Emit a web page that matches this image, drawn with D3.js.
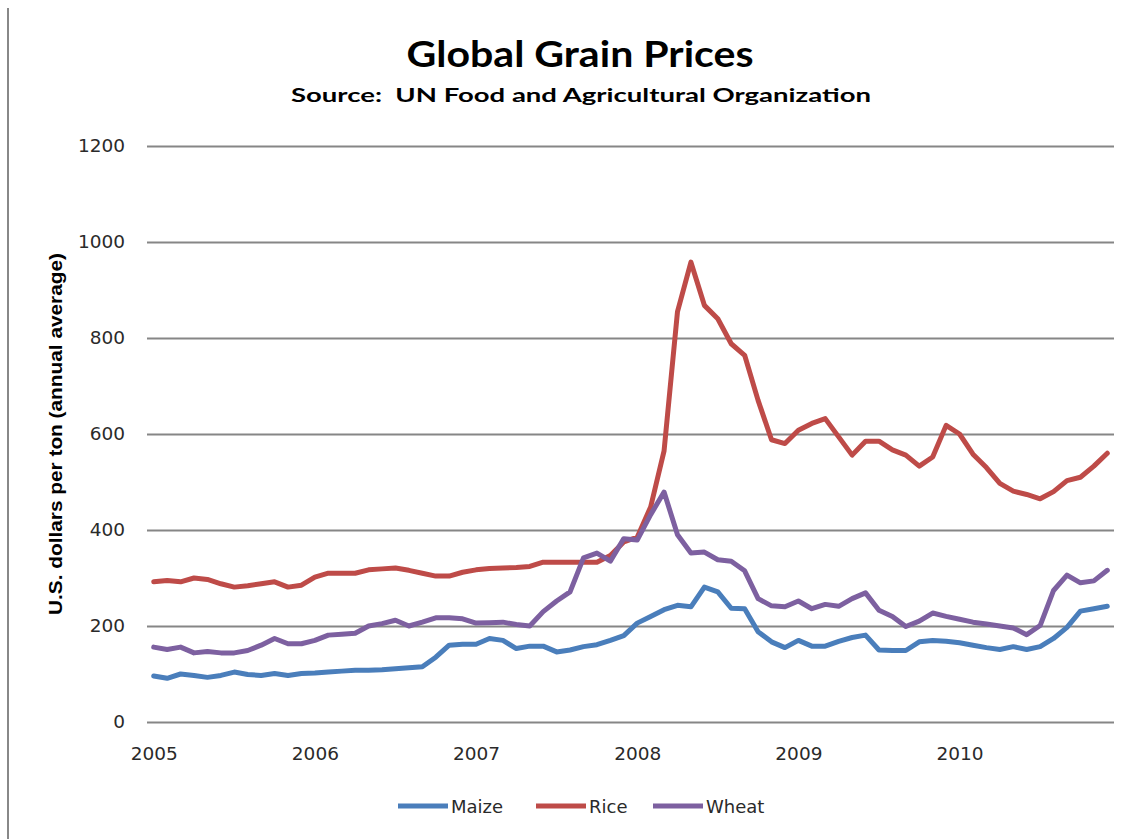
<!DOCTYPE html>
<html>
<head>
<meta charset="utf-8">
<script src="https://cdn.jsdelivr.net/npm/d3@7/dist/d3.min.js"></script>
<style>
  html, body { margin: 0; padding: 0; background: #fff; }
  svg { display: block; }
  .tick text { font-family: "DejaVu Sans", sans-serif; font-size: 18.5px; fill: #2a2a2a; }
</style>
</head>
<body>
<svg id="chart" width="1145" height="839"></svg>
<script>
// Global grain prices, monthly, Jan 2005 - Dec 2010 (US$ per ton)
const years = [2005, 2006, 2007, 2008, 2009, 2010];
const yTicks = [0, 200, 400, 600, 800, 1000, 1200];
const seriesNames = ["Maize", "Rice", "Wheat"];
const seriesColors = ["#4a7ebb", "#be4b48", "#7d60a0"];

const maize = [
  96, 91, 100, 97, 93, 97, 104, 99, 97, 101, 97, 101,
  102, 104, 106, 108, 108, 109, 111, 113, 115, 135, 160, 162,
  162, 174, 170, 153, 158, 158, 146, 150, 157, 161, 170, 180,
  206, 220, 234, 243, 240, 281, 271, 237, 236, 188, 167, 155,
  170, 158, 158, 168, 176, 181, 150, 149, 149, 167, 170, 168,
  165, 160, 155, 151, 157, 151, 157, 174, 197, 231, 236, 241
];
const rice = [
  292, 295, 292, 300, 297, 288, 281, 284, 288, 292, 281, 285,
  302, 310, 310, 310, 317, 319, 321, 316, 310, 304, 304, 312,
  317, 320, 321, 322, 324, 333, 333, 333, 333, 333, 347, 375,
  385, 448, 565, 855, 958, 868, 840, 788, 764, 670, 588, 580,
  608, 622, 632, 594, 556, 585, 585, 567, 556, 533, 552, 618,
  600, 558, 530, 497, 481, 474, 465, 480, 503, 510, 533, 560
];
const wheat = [
  156, 151, 156, 144, 147, 144, 144, 149, 160, 174, 163, 163,
  170, 181, 183, 185, 200, 205, 212, 200, 208, 217, 217, 215,
  206, 207, 208, 203, 200, 230, 252, 271, 342, 352, 335, 382,
  379, 432, 479, 390, 352, 354, 338, 335, 315, 257, 242, 240,
  252, 236, 245, 241, 257, 269, 233, 220, 199, 210, 227, 220,
  214, 208, 204, 200, 196, 182, 201, 274, 306, 290, 294, 316
];

const months = [];
years.forEach(yr => d3.range(1, 13).forEach(m => months.push(`${yr}-${String(m).padStart(2, "0")}`)));

const svg = d3.select("#chart");

// plot area
const plotL = 147, plotR = 1114, plotT = 146, plotB = 722;

const x = d3.scalePoint().domain(months).range([plotL, plotR]).padding(0.5);
const y = d3.scaleLinear().domain([0, 1200]).range([plotB, plotT]);

// left frame edge
svg.append("line")
  .attr("x1", 8).attr("x2", 8).attr("y1", 8).attr("y2", 839)
  .attr("stroke", "#888").attr("stroke-width", 2);

// titles
svg.append("text")
  .attr("x", 580).attr("y", 67)
  .attr("text-anchor", "middle")
  .attr("font-family", "Lato, sans-serif").attr("font-weight", 700).attr("font-size", 36)
  .attr("textLength", 347).attr("lengthAdjust", "spacingAndGlyphs")
  .attr("fill", "#000")
  .text("Global Grain Prices");

svg.append("text")
  .attr("x", 581).attr("y", 102)
  .attr("text-anchor", "middle")
  .attr("font-family", "Lato, sans-serif").attr("font-weight", 700).attr("font-size", 19.5)
  .attr("textLength", 580).attr("lengthAdjust", "spacingAndGlyphs")
  .style("white-space", "pre")
  .attr("fill", "#000")
  .text("Source:  UN Food and Agricultural Organization");

// y axis + gridlines
const yAxis = svg.append("g")
  .attr("transform", `translate(${plotL},0)`)
  .call(d3.axisLeft(y).tickValues(yTicks).tickFormat(d3.format("d"))
    .tickSize(-(plotR - plotL)).tickPadding(22));
yAxis.select(".domain").remove();
yAxis.selectAll(".tick line").attr("stroke", "#868686").attr("stroke-width", 2);

// x axis labels (years at January)
const xAxis = svg.append("g")
  .attr("transform", `translate(0,${plotB})`)
  .call(d3.axisBottom(x)
    .tickValues(months.filter(m => m.endsWith("-01")))
    .tickFormat(m => m.slice(0, 4))
    .tickSize(0).tickPadding(25));
xAxis.select(".domain").remove();

// y axis title
svg.append("text")
  .attr("transform", `translate(62,${(plotT + plotB) / 2}) rotate(-90)`)
  .attr("text-anchor", "middle")
  .attr("font-family", "'Liberation Sans', Arial, sans-serif").attr("font-weight", 700).attr("font-size", 19)
  .attr("textLength", 362).attr("lengthAdjust", "spacingAndGlyphs")
  .attr("fill", "#000")
  .text("U.S. dollars per ton (annual average)");

// series lines
const line = d3.line()
  .x((d, i) => x(months[i]))
  .y(d => y(d));

[maize, rice, wheat].forEach((vals, k) => {
  svg.append("path")
    .datum(vals)
    .attr("fill", "none")
    .attr("stroke", seriesColors[k])
    .attr("stroke-width", 5)
    .attr("stroke-linejoin", "round")
    .attr("stroke-linecap", "round")
    .attr("d", line);
});

// legend
const legendX = [398, 536, 653];
const legend = svg.append("g");
seriesNames.forEach((name, k) => {
  legend.append("line")
    .attr("x1", legendX[k]).attr("x2", legendX[k] + 50)
    .attr("y1", 806).attr("y2", 806)
    .attr("stroke", seriesColors[k]).attr("stroke-width", 5);
  legend.append("text")
    .attr("x", legendX[k] + 53).attr("y", 812.5)
    .attr("font-family", "'DejaVu Sans', sans-serif").attr("font-size", 18)
    .attr("fill", "#2a2a2a")
    .text(name);
});
</script>
</body>
</html>
